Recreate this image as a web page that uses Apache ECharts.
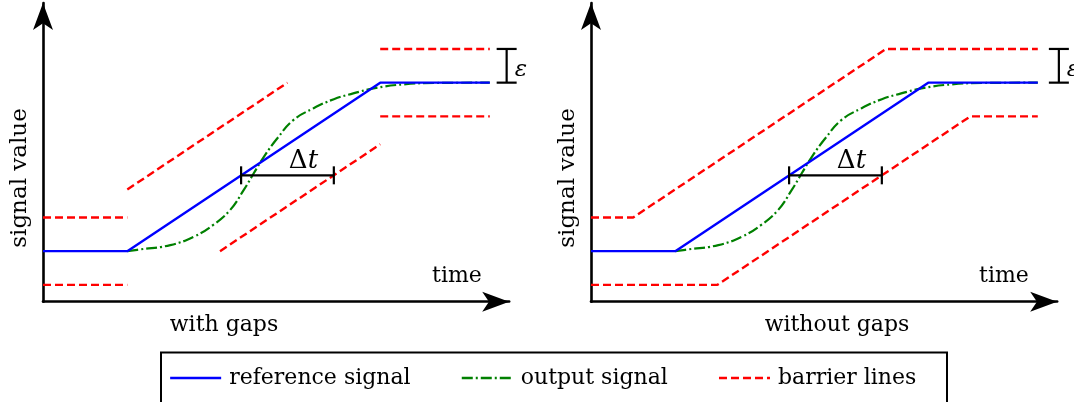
<!DOCTYPE html>
<html><head><meta charset="utf-8">
<script src="https://cdn.jsdelivr.net/npm/echarts@6/dist/echarts.min.js"></script>
<style>html,body{margin:0;padding:0;background:#fff}#c{width:1074px;height:402px}</style>
</head><body><div id="c"></div>
<script>
// ---- texts ----
const panelTitles = ['with gaps', 'without gaps'];
const xName = 'time';
const yName = 'signal value';
const legendNames = ['reference signal', 'output signal', 'barrier lines'];

// ---- axis ranges (data units) ----
const tMax = 5.53;
const vMax = 8.86;

// ---- reference signal ----
const refT = [0, 1, 4, 5.3];
const refV = [1.5, 1.5, 6.5, 6.5];

// ---- output signal ----
const outT = [1.0, 1.15, 1.51, 1.79, 2.02, 2.22, 2.38, 2.50, 2.62, 2.78, 2.97, 3.21, 3.45, 3.68, 3.92, 4.28, 4.67, 5.3];
const outV = [1.5, 1.55, 1.68, 1.93, 2.28, 2.72, 3.31, 3.81, 4.30, 4.85, 5.39, 5.74, 6.01, 6.18, 6.33, 6.45, 6.49, 6.5];

// ---- barrier lines, panel "with gaps" (segments) ----
const gapSegT = [[0, 1], [1, 2.9], [4, 5.3], [0, 1], [2.1, 4], [4, 5.3]];
const gapSegV = [[2.5, 2.5], [3.33, 6.5], [7.5, 7.5], [0.5, 0.5], [1.5, 4.67], [5.5, 5.5]];

// ---- barrier lines, panel "without gaps" ----
const upperT = [0, 0.5, 3.5, 5.3];
const upperV = [2.5, 2.5, 7.5, 7.5];
const lowerT = [0, 1.5, 4.5, 5.3];
const lowerV = [0.5, 0.5, 5.5, 5.5];

// ---- annotations ----
const dtBracket = [2.35, 3.45, 3.75];          // t from, t to, value
const epsBracketT = [5.5, 5.55];               // per panel
const epsBracketV = [6.5, 7.5];
const epsLabel = 'ε';

// ---- styling ----
const FONT = 'DejaVu Serif';
const BLUE = '#0000ff', GREEN = '#008000', RED = '#ff0000';
const pxT = 84.3, pxV = 33.7;
const gridW = tMax * pxT, gridH = vMax * pxV;
const gridTop = 301.7 - gridH;
const gridLefts = [43, 591];

const zip = (a, b) => a.map((x, i) => [x, b[i]]);

const redStyle = {color: RED, width: 2.4, type: [8, 4]};
const greenStyle = {color: GREEN, width: 2.2, type: [11, 3, 2, 3]};
const blueStyle = {color: BLUE, width: 2.4};

function lineSeries(name, gi, data, style, z, smooth) {
  return {
    type: 'line', name: name, xAxisIndex: gi, yAxisIndex: gi, data: data,
    showSymbol: false, symbol: 'none', smooth: smooth || false, silent: true,
    lineStyle: style, itemStyle: {color: style.color}, z: z, clip: false
  };
}

function bracketDt(gi) {
  return {
    type: 'custom', xAxisIndex: gi, yAxisIndex: gi, silent: true, clip: false, z: 6,
    data: [dtBracket],
    renderItem: function (params, api) {
      const p0 = api.coord([api.value(0), api.value(2)]);
      const p1 = api.coord([api.value(1), api.value(2)]);
      const cap = 9;
      const st = {stroke: '#000', lineWidth: 2.2};
      return {type: 'group', children: [
        {type: 'line', shape: {x1: p0[0], y1: p0[1], x2: p1[0], y2: p1[1]}, style: st},
        {type: 'line', shape: {x1: p0[0], y1: p0[1] - cap, x2: p0[0], y2: p0[1] + cap}, style: st},
        {type: 'line', shape: {x1: p1[0], y1: p1[1] - cap, x2: p1[0], y2: p1[1] + cap}, style: st},
        {type: 'text', x: (p0[0] + p1[0]) / 2 + 16, y: p0[1] - 1,
          style: {text: '{a|Δ}{b|t}', align: 'center', verticalAlign: 'bottom', fill: '#000',
            rich: {a: {fontFamily: FONT, fontSize: 26, fill: '#000'},
                   b: {fontFamily: FONT, fontSize: 26, fontStyle: 'italic', fill: '#000'}}}}
      ]};
    }
  };
}

function bracketEps(gi) {
  return {
    type: 'custom', xAxisIndex: gi, yAxisIndex: gi, silent: true, clip: false, z: 6,
    data: [[epsBracketT[gi], epsBracketV[0], epsBracketV[1]]],
    renderItem: function (params, api) {
      const p0 = api.coord([api.value(0), api.value(1)]);
      const p1 = api.coord([api.value(0), api.value(2)]);
      const cap = 10;
      const st = {stroke: '#000', lineWidth: 2.2};
      return {type: 'group', children: [
        {type: 'line', shape: {x1: p0[0], y1: p0[1], x2: p1[0], y2: p1[1]}, style: st},
        {type: 'line', shape: {x1: p0[0] - cap, y1: p0[1], x2: p0[0] + cap, y2: p0[1]}, style: st},
        {type: 'line', shape: {x1: p1[0] - cap, y1: p1[1], x2: p1[0] + cap, y2: p1[1]}, style: st},
        {type: 'text', x: p0[0] + 8, y: (p0[1] + p1[1]) / 2 + 4,
          style: {text: epsLabel, align: 'left', verticalAlign: 'middle', fill: '#000',
            fontFamily: FONT, fontSize: 23, fontStyle: 'italic'}}
      ]};
    }
  };
}

const series = [];
// panel 0: with gaps
gapSegT.forEach((seg, i) => series.push(lineSeries(legendNames[2], 0, zip(seg, gapSegV[i]), redStyle, 2)));
series.push(lineSeries(legendNames[1], 0, zip(outT, outV), greenStyle, 3, 0.45));
series.push(lineSeries(legendNames[0], 0, zip(refT, refV), blueStyle, 4));
series.push(bracketDt(0));
series.push(bracketEps(0));
// panel 1: without gaps
series.push(lineSeries(legendNames[2], 1, zip(upperT, upperV), redStyle, 2));
series.push(lineSeries(legendNames[2], 1, zip(lowerT, lowerV), redStyle, 2));
series.push(lineSeries(legendNames[1], 1, zip(outT, outV), greenStyle, 3, 0.45));
series.push(lineSeries(legendNames[0], 1, zip(refT, refV), blueStyle, 4));
series.push(bracketDt(1));
series.push(bracketEps(1));

function axisCommon() {
  return {
    type: 'value', min: 0, splitLine: {show: false}, axisTick: {show: false},
    axisLabel: {show: false},
    axisLine: {show: true, onZero: false, symbol: ['none', 'arrow'], symbolSize: [15, 27],
      lineStyle: {color: '#000', width: 2.6}}
  };
}

const xAxes = [0, 1].map(i => Object.assign(axisCommon(), {gridIndex: i, max: tMax}));
const yAxes = [0, 1].map(i => Object.assign(axisCommon(), {gridIndex: i, max: vMax}));

const txt = (text, x, y, extra) => ({
  type: 'text', x: x, y: y, silent: true,
  style: Object.assign({text: text, fill: '#000', fontFamily: FONT, fontSize: 22,
    align: 'center', verticalAlign: 'middle'}, extra || {})
});

const graphics = [
  // legend frame
  {type: 'rect', silent: true, shape: {x: 161, y: 352.5, width: 786, height: 80},
    style: {fill: 'none', stroke: '#000', lineWidth: 2}, z: 0},
  txt(panelTitles[0], 224, 325),
  txt(panelTitles[1], 837, 325),
  txt(xName, 457, 276),
  txt(xName, 1004, 276),
  Object.assign(txt(yName, 20, 178, {fontSize: 23}), {rotation: Math.PI / 2}),
  Object.assign(txt(yName, 568, 178, {fontSize: 23}), {rotation: Math.PI / 2})
];

const chart = echarts.init(document.getElementById('c'), null, {renderer: 'canvas'});
chart.setOption({
  animation: false,
  backgroundColor: '#fff',
  grid: gridLefts.map(l => ({left: l, top: gridTop, width: gridW, height: gridH, containLabel: false})),
  xAxis: xAxes,
  yAxis: yAxes,
  legend: {
    data: legendNames, left: 169, top: 367, padding: 0, itemWidth: 51, itemHeight: 14, itemGap: 50,
    selectedMode: false,
    itemStyle: {opacity: 0},
    lineStyle: {width: 2.3},
    textStyle: {fontFamily: FONT, fontSize: 22, color: '#000', padding: [0, 0, 0, 3]}
  },
  graphic: graphics,
  series: series
});
</script>
</body></html>
